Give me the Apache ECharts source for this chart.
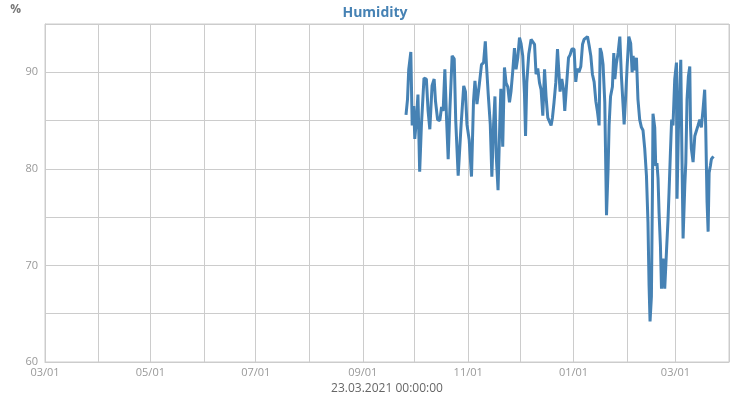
<!DOCTYPE html>
<html>
<head>
<meta charset="utf-8">
<script src="https://cdn.jsdelivr.net/npm/echarts@6/dist/echarts.min.js"></script>
<style>
  html, body { margin: 0; padding: 0; background: #fff; }
  #chart { width: 750px; height: 400px; }
</style>
</head>
<body>
<div id="chart"></div>
<script>
var times = [
  '2020-09-26 00:00','2020-09-26 21:00','2020-09-27 14:00','2020-09-28 19:00','2020-09-29 14:00',
  '2020-09-30 12:00','2020-10-01 02:00','2020-10-02 00:00','2020-10-02 22:00','2020-10-03 22:00',
  '2020-10-04 22:00','2020-10-06 10:00','2020-10-07 19:00','2020-10-08 19:00','2020-10-09 19:00',
  '2020-10-11 02:00','2020-10-12 07:00','2020-10-13 02:00','2020-10-14 07:00','2020-10-15 14:00',
  '2020-10-16 14:00','2020-10-17 12:00','2020-10-18 12:00','2020-10-19 12:00','2020-10-20 10:00',
  '2020-10-21 10:00','2020-10-22 17:00','2020-10-23 22:00','2020-10-24 19:00','2020-10-26 05:00',
  '2020-10-27 22:00','2020-10-29 10:00','2020-10-30 10:00','2020-10-31 07:00','2020-11-01 14:00',
  '2020-11-02 22:00','2020-11-04 02:00','2020-11-04 22:00','2020-11-06 02:00','2020-11-07 10:00',
  '2020-11-08 17:00','2020-11-09 22:00','2020-11-10 22:00','2020-11-11 14:00','2020-11-12 14:00',
  '2020-11-13 19:00','2020-11-14 17:00','2020-11-15 17:00','2020-11-16 12:00','2020-11-17 07:00',
  '2020-11-18 07:00','2020-11-19 07:00','2020-11-19 22:00','2020-11-21 00:00','2020-11-22 00:00',
  '2020-11-22 22:00','2020-11-23 22:00','2020-11-24 22:00','2020-11-25 19:00','2020-11-26 19:00',
  '2020-11-27 19:00','2020-11-28 17:00','2020-11-29 17:00','2020-11-30 17:00','2020-12-01 14:00',
  '2020-12-02 14:00','2020-12-03 14:00','2020-12-04 05:00','2020-12-04 22:00','2020-12-06 02:00',
  '2020-12-07 10:00','2020-12-08 10:00','2020-12-09 10:00','2020-12-10 07:00','2020-12-11 07:00',
  '2020-12-12 07:00','2020-12-13 05:00','2020-12-14 05:00','2020-12-15 05:00','2020-12-16 02:00',
  '2020-12-17 02:00','2020-12-18 02:00','2020-12-19 00:00','2020-12-19 19:00','2020-12-20 17:00',
  '2020-12-21 17:00','2020-12-22 17:00','2020-12-23 14:00','2020-12-24 05:00','2020-12-25 05:00',
  '2020-12-26 05:00','2020-12-26 22:00','2020-12-28 02:00','2020-12-29 02:00','2020-12-30 00:00',
  '2020-12-31 00:00','2021-01-01 07:00','2021-01-02 07:00','2021-01-03 05:00','2021-01-04 02:00',
  '2021-01-05 05:00','2021-01-06 05:00','2021-01-07 02:00','2021-01-09 02:00','2021-01-10 00:00',
  '2021-01-11 00:00','2021-01-11 22:00','2021-01-12 22:00','2021-01-13 22:00','2021-01-14 19:00',
  '2021-01-15 19:00','2021-01-16 10:00','2021-01-17 05:00','2021-01-18 02:00','2021-01-19 02:00',
  '2021-01-20 02:00','2021-01-21 00:00','2021-01-21 14:00','2021-01-22 10:00','2021-01-23 12:00',
  '2021-01-24 07:00','2021-01-24 22:00','2021-01-25 19:00','2021-01-26 19:00','2021-01-27 19:00',
  '2021-01-28 17:00','2021-01-29 17:00','2021-01-30 07:00','2021-01-31 05:00','2021-02-01 00:00',
  '2021-02-02 00:00','2021-02-03 02:00','2021-02-03 22:00','2021-02-04 12:00','2021-02-05 10:00',
  '2021-02-06 10:00','2021-02-07 07:00','2021-02-08 07:00','2021-02-09 07:00','2021-02-10 05:00',
  '2021-02-11 05:00','2021-02-12 05:00','2021-02-13 02:00','2021-02-13 17:00','2021-02-14 07:00',
  '2021-02-15 02:00','2021-02-15 17:00','2021-02-16 00:00','2021-02-17 00:00','2021-02-17 14:00',
  '2021-02-18 07:00','2021-02-18 22:00','2021-02-19 12:00','2021-02-20 07:00','2021-02-20 22:00',
  '2021-02-21 19:00','2021-02-22 19:00','2021-02-23 19:00','2021-02-24 17:00','2021-02-25 07:00',
  '2021-02-26 02:00','2021-02-26 19:00','2021-02-27 14:00','2021-02-28 14:00','2021-03-01 14:00',
  '2021-03-01 22:00','2021-03-02 17:00','2021-03-03 12:00','2021-03-04 02:00','2021-03-04 14:00',
  '2021-03-05 10:00','2021-03-06 10:00','2021-03-07 00:00','2021-03-07 17:00','2021-03-08 12:00',
  '2021-03-09 07:00','2021-03-09 17:00','2021-03-10 05:00','2021-03-11 05:00','2021-03-12 05:00',
  '2021-03-13 02:00','2021-03-14 02:00','2021-03-15 02:00','2021-03-16 00:00','2021-03-17 00:00',
  '2021-03-17 22:00','2021-03-18 12:00','2021-03-18 22:00','2021-03-19 07:00','2021-03-19 22:00',
  '2021-03-20 12:00','2021-03-21 05:00','2021-03-21 19:00','2021-03-23 00:00'
];
// humidity in %
var humidity = [
  85.6, 87.2, 90.3, 92.1, 84.5,
  86.5, 83.1, 85.0, 87.7, 79.7,
  84.5, 89.4, 89.3, 86.0, 84.1,
  88.6, 89.3, 87.0, 85.1, 85.0,
  86.4, 86.0, 90.3, 85.1, 81.0,
  86.2, 91.7, 91.4, 85.0, 79.3,
  84.6, 88.6, 88.0, 84.6, 83.0,
  79.2, 87.0, 89.1, 86.7, 88.7,
  90.8, 91.0, 93.2, 90.8, 87.8,
  84.6, 79.2, 84.6, 87.5, 81.2,
  77.8, 84.6, 88.3, 82.3, 90.5,
  88.9, 88.5, 86.9, 88.0, 90.1,
  92.5, 90.3, 91.5, 93.6, 93.0,
  91.7, 87.8, 83.4, 88.9, 91.9,
  93.4, 93.6, 92.9, 89.8, 90.4,
  88.9, 88.2, 85.5, 90.3, 87.5,
  85.3, 85.3, 84.5, 85.3, 86.9,
  88.9, 92.4, 89.8, 88.0, 89.3,
  88.2, 86.0, 89.0, 91.5, 91.8,
  92.4, 92.4, 89.0, 90.4, 90.0,
  90.6, 92.9, 93.4, 93.7, 92.8,
  91.7, 89.8, 89.0, 87.0, 86.0,
  84.5, 92.5, 92.0, 90.8, 86.9,
  75.2, 80.0, 84.5, 87.5, 88.5,
  92.0, 89.3, 90.9, 92.0, 93.7,
  89.6, 86.5, 84.6, 87.6, 90.5,
  93.7, 93.0, 90.0, 91.7, 90.2,
  91.5, 87.2, 85.1, 84.3, 84.0,
  82.1, 79.3, 74.5, 68.0, 64.2,
  66.8, 78.3, 85.7, 84.3, 80.3,
  80.6, 79.0, 75.5, 72.1, 67.6,
  70.7, 67.6, 71.4, 74.8, 77.6,
  81.7, 85.1, 84.5, 89.3, 91.0,
  76.9, 84.0, 88.6, 91.3, 83.7,
  72.8, 78.3, 80.7, 87.2, 89.6,
  90.6, 84.5, 82.1, 80.7, 83.4,
  83.4, 84.5, 85.1, 84.3, 86.2,
  88.2, 84.5, 80.3, 76.6, 73.5,
  79.6, 80.3, 81.0, 81.3
];
var axisStart = '2020-03-01';
var axisEnd = '2021-04-01';
var stampText = '23.03.2021 00:00:00';

function pad(n){
	return n < 10 ? '0' + n : '' + n;
}

var seriesData = [];
for(var i = 0;i<times.length;i++){
	seriesData.push([times[i], humidity[i]]);
}

var dayMs = 3600 * 24 * 1000;
var option = {
	animation: false,
	textStyle: { fontFamily: 'Open Sans' },
	title: {
		text: 'Humidity',
		left: 'center',
		top: 1,
		textStyle: { color: '#4682b4', fontSize: 14, fontWeight: 'bold', fontFamily: 'Open Sans' }
	},
	grid: {
		left: 45, right: 21, top: 24, bottom: 36,
		show: true, borderColor: '#cccccc', borderWidth: 1
	},
	xAxis: {
		type: 'time',
		min: axisStart,
		max: axisEnd,
		splitNumber: 13,
		minInterval: 28 * dayMs,
		maxInterval: 31 * dayMs,
		name: stampText,
		nameLocation: 'middle',
		nameGap: 21,
		nameTextStyle: { color: '#666666', fontSize: 12 },
		axisLine: { lineStyle: { color: '#cccccc' } },
		axisTick: { show: false },
		splitLine: { show: true, lineStyle: { color: '#cccccc' } },
		axisLabel: {
			color: '#999999',
			fontSize: 11,
			margin: 5,
			hideOverlap: false,
			formatter: function(val){
				var d = new Date(val);
				var m = d.getMonth() + 1;
				if(m % 2 === 0){
					return '';
				}
				return pad(m) + '/' + pad(d.getDate());
			}
		}
	},
	yAxis: {
		type: 'value',
		min: 60,
		max: 95,
		interval: 5,
		name: '%',
		nameGap: 8,
		nameTextStyle: { color: '#777777', fontSize: 12, fontWeight: 'bold', align: 'right', padding: [0, 24, 0, 0] },
		axisLine: { show: true, lineStyle: { color: '#cccccc' } },
		axisTick: { show: false },
		splitLine: { lineStyle: { color: '#cccccc' } },
		axisLabel: {
			color: '#999999',
			fontSize: 11,
			margin: 7,
			formatter: function(v){
				return (v % 10 === 0 && v < 95) ? v : '';
			}
		}
	},
	series: [{
		name: 'Humidity',
		type: 'line',
		showSymbol: false,
		symbol: 'none',
		lineStyle: { color: '#4682b4', width: 3 },
		itemStyle: { color: '#4682b4' },
		data: seriesData
	}]
};

var myChart = echarts.init(document.getElementById('chart'));
myChart.setOption(option);
</script>
</body>
</html>
